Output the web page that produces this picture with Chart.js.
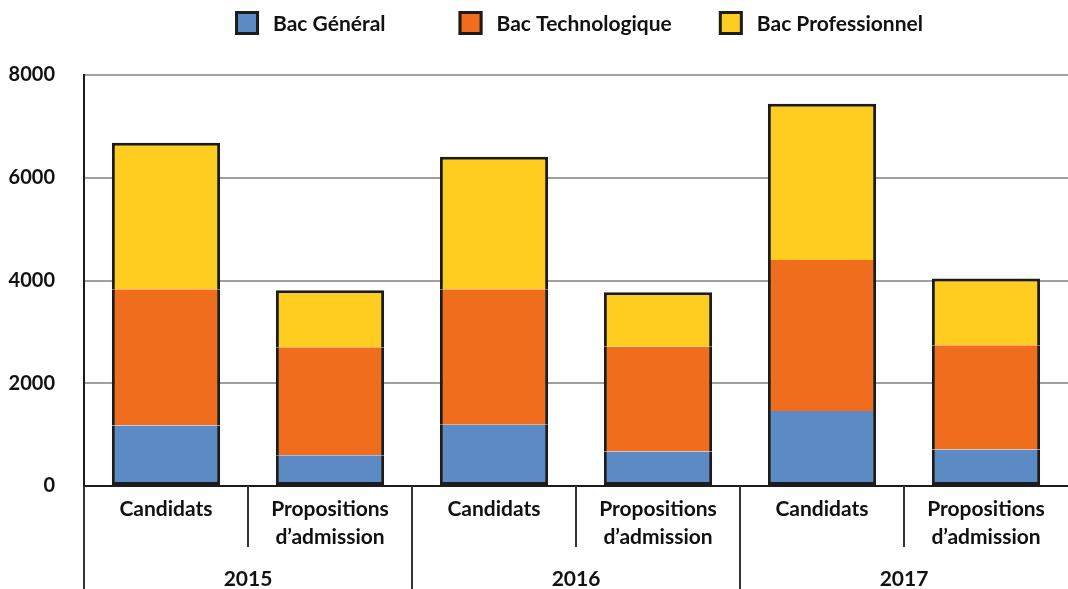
<!DOCTYPE html>
<html>
<head>
<meta charset="utf-8">
<script src="https://cdn.jsdelivr.net/npm/chart.js"></script>
<style>
  body { margin: 0; background: #fff; }
  #holder { width: 1068px; height: 589px; position: relative; }
</style>
</head>
<body>
<div id="holder"><canvas id="bacChart"></canvas></div>
<script>
    // data
    const categories = ['Candidats', ['Propositions', 'd’admission'], 'Candidats', ['Propositions', 'd’admission'], 'Candidats', ['Propositions', 'd’admission']];
    const years = ['2015', '2016', '2017'];
    const seriesNames = ['Bac Général', 'Bac Technologique', 'Bac Professionnel'];
    const bacGeneral = [1180, 600, 1190, 670, 1460, 710];
    const bacTechno = [2650, 2100, 2640, 2040, 2940, 2030];
    const bacPro = [2850, 1110, 2580, 1060, 3040, 1300];
    const yTicks = [0, 2000, 4000, 6000, 8000];

    const colors = ['#5b8ac4', '#f06d1e', '#ffcc20'];
    const edge = '#1c1c1c';
    const labelFont = { family: 'Lato', weight: 'bold', size: 21 };

    // legend drawn by hand: square boxes, uneven gaps like the original
    const boxLegend = {
        id: 'boxLegend',
        afterDraw(chart) {
            const ctx = chart.ctx;
            const area = chart.chartArea;
            ctx.save();
            ctx.font = 'bold 21px Lato';
            const box = 24, gapText = 14, gaps = [73, 47], y = 23;
            const widths = chart.data.datasets.map(d => ctx.measureText(d.label).width);
            let total = widths.reduce((a, w) => a + box + gapText + w, 0) + gaps[0] + gaps[1];
            let x = (area.left + area.right) / 2 - total / 2 + 3;
            chart.data.datasets.forEach((d, i) => {
                ctx.fillStyle = d.backgroundColor;
                ctx.fillRect(x, y - box / 2, box, box);
                ctx.strokeStyle = edge;
                ctx.lineWidth = 3;
                ctx.strokeRect(x + 1.5, y - box / 2 + 1.5, box - 3, box - 3);
                ctx.fillStyle = '#111';
                ctx.textBaseline = 'middle';
                ctx.textAlign = 'left';
                ctx.fillText(d.label, x + box + gapText, y + 1);
                x += box + gapText + widths[i] + (gaps[i] || 0);
            });
            ctx.restore();
        }
    };

    // vertical separators under the x axis: short ones between categories, long ones between years
    const separators = {
        id: 'separators',
        afterDraw(chart) {
            const xs = chart.scales.x;
            const ctx = chart.ctx;
            const top = chart.chartArea.bottom;
            const n = categories.length;
            const perYear = n / years.length;
            const step = xs.getPixelForValue(1) - xs.getPixelForValue(0);
            const start = xs.getPixelForValue(0) - step / 2;
            ctx.save();
            ctx.strokeStyle = '#333';
            ctx.lineWidth = 2;
            for (let i = 0; i < n; i++) {
                const px = Math.round(start + i * step);
                const bottom = i % perYear === 0 ? chart.height : xs.bottom;
                ctx.beginPath();
                ctx.moveTo(px, top);
                ctx.lineTo(px, bottom);
                ctx.stroke();
            }
            ctx.restore();
        }
    };

    const sides = [
        { left: 3, right: 3, bottom: 3, top: 0 },
        { left: 3, right: 3, bottom: 0, top: 0 },
        { left: 3, right: 3, bottom: 0, top: 3 }
    ];
    const values = [bacGeneral, bacTechno, bacPro];

    const ctx = document.getElementById('bacChart').getContext('2d');
    new Chart(ctx, {
        type: 'bar',
        data: {
            labels: categories,
            datasets: values.map((v, i) => ({
                label: seriesNames[i],
                data: v,
                backgroundColor: colors[i],
                borderColor: edge,
                borderWidth: sides[i],
                borderSkipped: false,
                categoryPercentage: 1,
                barPercentage: 0.66
            }))
        },
        options: {
            responsive: true,
            maintainAspectRatio: false,
            animation: false,
            layout: { padding: { top: 75, left: 0, right: 0, bottom: 0 } },
            plugins: {
                legend: { display: false },
                tooltip: { enabled: false }
            },
            scales: {
                x: {
                    stacked: true,
                    afterFit: s => { s.height = 61; },
                    grid: { display: false, drawTicks: false },
                    border: { display: true, color: edge, width: 2 },
                    ticks: { color: '#111', font: { ...labelFont, lineHeight: 1.3 }, padding: 10, maxRotation: 0, autoSkip: false }
                },
                x2: {
                    type: 'category',
                    labels: years,
                    position: 'bottom',
                    afterFit: s => { s.height = 42; },
                    grid: { display: false, drawTicks: false },
                    border: { display: false },
                    ticks: { color: '#111', font: { ...labelFont, lineHeight: 1.0 }, padding: 22, maxRotation: 0 }
                },
                y: {
                    stacked: true,
                    min: 0,
                    max: 8000,
                    afterFit: s => { s.width = 84; },
                    afterBuildTicks: scale => { scale.ticks = yTicks.map(v => ({ value: v })); },
                    grid: { color: '#a0a0a0', lineWidth: 2, drawTicks: false },
                    border: { display: true, color: edge, width: 2 },
                    ticks: { color: '#111', font: { family: 'Lato', weight: 'bold', size: 20 }, padding: 29, callback: v => String(v) }
                }
            }
        },
        plugins: [boxLegend, separators]
    });
</script>
</body>
</html>
